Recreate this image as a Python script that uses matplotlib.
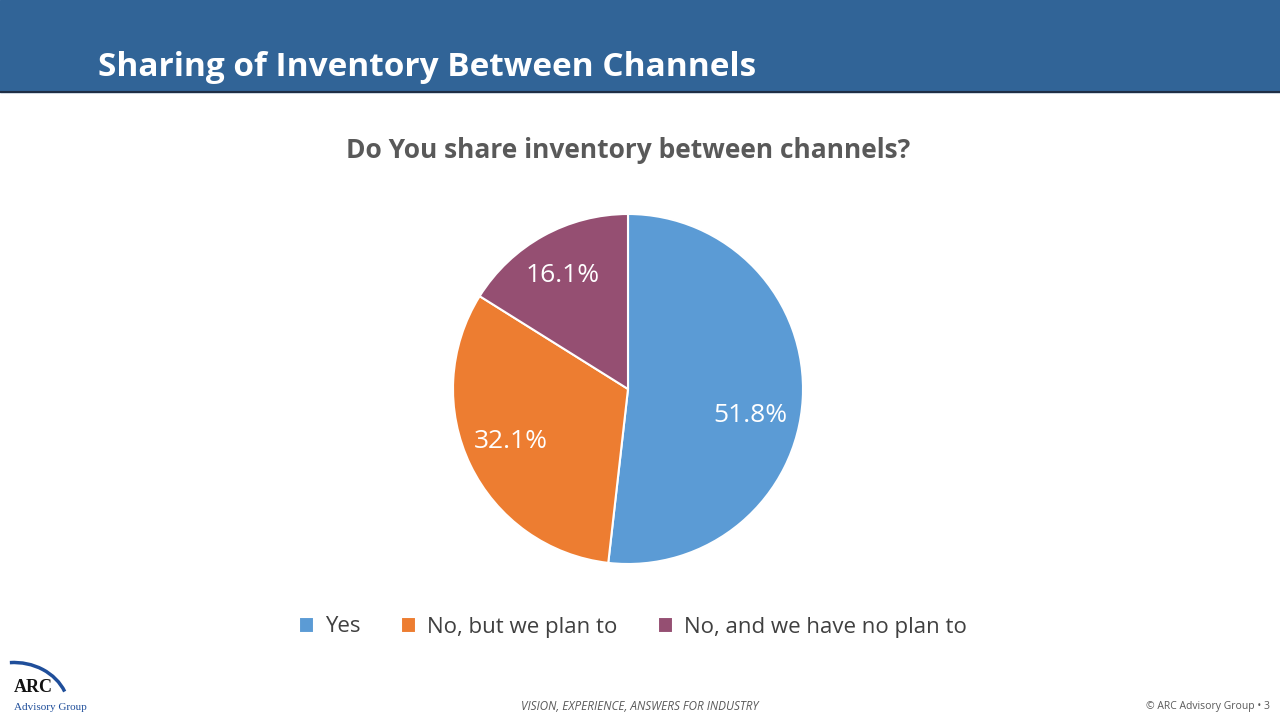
import matplotlib.pyplot as plt
from matplotlib.patches import Rectangle, Arc

labels = ["Yes", "No, but we plan to", "No, and we have no plan to"]
values = [51.8, 32.1, 16.1]
colors = ["#5B9BD5", "#ED7D31", "#954F72"]

plt.rcParams["font.family"] = ["Open Sans", "DejaVu Sans"]

fig = plt.figure(figsize=(12.8, 7.2), dpi=100)
ax = fig.add_axes([0, 0, 1, 1])
ax.set_xlim(0, 1280)
ax.set_ylim(0, 720)
ax.axis("off")

# header band
ax.add_patch(Rectangle((0, 720 - 92), 1280, 92, color="#316497", zorder=0))
ax.plot([0, 1280], [720 - 92, 720 - 92], color="#1F2F45", lw=1.5)
ax.text(98, 720 - 67, "Sharing of Inventory Between Channels", color="white",
        fontsize=24, fontweight="bold", va="center", ha="left")
ax.text(628, 720 - 151, "Do You share inventory between channels?", color="#595959",
        fontsize=19, fontweight="bold", ha="center", va="center")

wedges, texts, autotexts = ax.pie(values, colors=colors, startangle=90, counterclock=False,
                                  center=(628, 331), radius=175, autopct="%.1f%%",
                                  pctdistance=0.7, frame=True,
                                  wedgeprops=dict(edgecolor="white", linewidth=1.5),
                                  textprops=dict(color="white", fontsize=19))
autotexts[0].set_position((750, 720 - 415))
autotexts[1].set_position((511, 720 - 442))
autotexts[2].set_position((563, 720 - 276))
ax.set_xlim(0, 1280)
ax.set_ylim(0, 720)
ax.set_aspect("auto")
ax.axis("off")

ax.legend(wedges, labels, loc="center", bbox_to_anchor=(633 / 1280, 1 - 627 / 720),
          ncol=3, frameon=False, fontsize=16, handlelength=0.7, handleheight=0.7,
          columnspacing=1.8, handletextpad=0.5, labelcolor="#404040")

# footer
ax.text(640, 720 - 706, "VISION, EXPERIENCE, ANSWERS FOR INDUSTRY", color="#595959",
        fontsize=8.5, style="italic", ha="center", va="center")
ax.text(1270, 720 - 707, "© ARC Advisory Group • 3", color="#595959",
        fontsize=7.5, ha="right", va="center")
ax.text(14, 720 - 688, "ARC", color="#111111", fontsize=13, fontweight="bold",
        family="Liberation Serif", ha="left", va="center")
ax.text(14, 720 - 707, "Advisory Group", color="#1F4E9A", fontsize=8,
        family="Liberation Serif", ha="left", va="center")
ax.add_patch(Arc((14, 720 - 710), 110, 95, theta1=20, theta2=95, color="#1F4E9A", lw=2.5))

fig.savefig("out.png", dpi=100)
